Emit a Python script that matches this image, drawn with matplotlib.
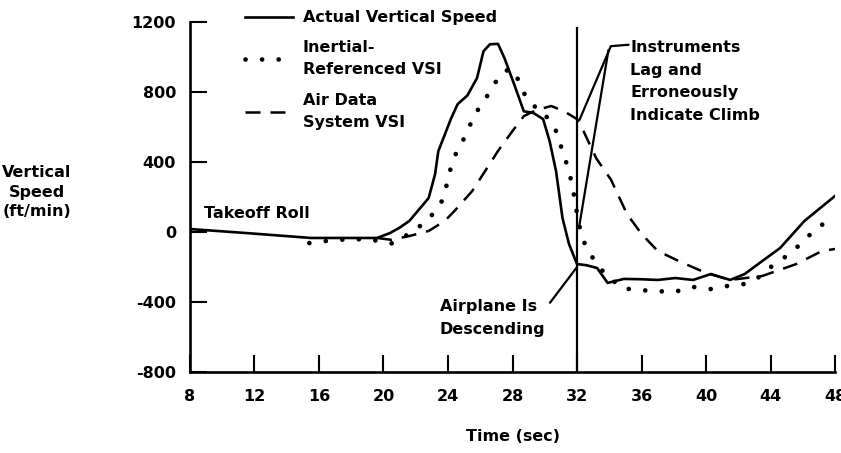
import matplotlib.pyplot as plt

# values
actual_t = [8, 11.5, 15.5, 19.6, 20.4, 21.0, 21.6, 22.8, 23.2, 23.4, 24.2, 24.6, 25.2,
            25.8, 26.2, 26.6, 27.1, 27.5, 28.1, 28.7, 29.3, 29.9, 30.3, 30.7, 31.1,
            31.5, 32.0, 32.6, 33.25, 33.9, 34.9, 36.0, 37.0, 38.1, 39.2, 40.3, 41.5,
            42.4, 43.5, 44.6, 46.1, 48]
actual_v = [17, -6, -34, -34, -6, 25, 63, 194, 331, 462, 651, 731, 780,
            880, 1033, 1073, 1075, 994, 845, 690, 680, 645, 520, 348, 80,
            -68, -183, -190, -206, -291, -268, -270, -274, -263, -274, -240, -274,
            -240, -165, -91, 63, 206]

inertial_t = [15.4, 17, 19, 20.5, 21.6, 22.7, 23.3, 23.7, 23.9, 24.2, 24.6, 25.2, 25.5,
              26.0, 26.6, 27.1, 27.5, 28.0, 28.4, 28.7, 29.3, 29.8, 30.7, 31.0, 31.4,
              31.7, 31.9, 32.1, 32.4, 32.9, 33.4, 34.75, 35.7, 36.8, 38.0, 39.2, 40.3,
              41.35, 42.4, 43.3, 44.1, 45.0, 45.8, 46.8, 48]
inertial_v = [-63, -45, -40, -65, -10, 63, 131, 188, 263, 377, 474, 565, 645,
              720, 800, 880, 920, 930, 862, 794, 720, 702, 577, 491, 377,
              274, 160, 51, -51, -137, -206, -320, -331, -337, -343, -314, -326,
              -308, -297, -257, -194, -137, -74, 17, 91]

airdata_t = [19.6, 20.5, 21.6, 22.8, 23.8, 24.4, 25.5, 26.3, 27.1, 28.0, 28.7, 29.2,
             29.8, 30.4, 31.2, 32.0, 32.4, 33.2, 34.1, 35.1, 36.0, 37.0, 38.4, 40.0,
             41.5, 43.5, 45.6, 47.2, 48]
airdata_v = [-34, -45, -23, 6, 63, 120, 234, 348, 463, 577, 662, 685,
             705, 720, 690, 645, 577, 420, 300, 103, -11, -108, -170, -234,
             -274, -251, -183, -108, -97]

x_ticks = [8, 12, 16, 20, 24, 28, 32, 36, 40, 44, 48]
y_ticks = [-800, -400, 0, 400, 800, 1200]

plt.rcParams['font.family'] = 'DejaVu Sans'
plt.rcParams['font.weight'] = 'bold'
plt.rcParams['axes.unicode_minus'] = False
fs = 11.5

fig = plt.figure(figsize=(8.41, 4.53), dpi=100)
ax = fig.add_axes([0.2259, 0.1788, 0.767, 0.7726])

ax.plot(actual_t, actual_v, color='black', lw=1.9, label='Actual Vertical Speed')
ax.plot(inertial_t, inertial_v, color='black', lw=3.4, linestyle=(0, (0.01, 3.5)),
        dash_capstyle='round', label='Inertial-\nReferenced VSI')
ax.plot(airdata_t, airdata_v, color='black', lw=1.8, linestyle=(0, (6, 4)),
        label='Air Data\nSystem VSI')

ax.axvline(32, ymax=0.982, color='black', lw=1.6)

ax.set_xlim(8, 48)
ax.set_ylim(-800, 1200)
ax.set_xticks(x_ticks)
ax.set_yticks(y_ticks)
ax.tick_params(axis='both', direction='in', length=12, width=1.5, labelsize=fs)
ax.tick_params(axis='y', pad=10)
ax.tick_params(axis='x', pad=12)
for s in ['top', 'right']:
    ax.spines[s].set_visible(False)
for s in ['left', 'bottom']:
    ax.spines[s].set_linewidth(1.9)

ax.set_xlabel('Time (sec)', fontsize=fs, fontweight='bold', labelpad=18)
ax.set_ylabel('Vertical\nSpeed\n(ft/min)', fontsize=fs, fontweight='bold',
              rotation=0, ha='center', va='center', multialignment='center',
              linespacing=1.35)
ax.yaxis.set_label_coords(-0.237, 0.514)

leg = ax.legend(loc='upper left', bbox_to_anchor=(0.0853, 1.034), frameon=False,
                fontsize=fs, handlelength=3.0, handletextpad=0.6, labelspacing=0.95,
                borderpad=0, borderaxespad=0)
for t in leg.get_texts():
    t.set_linespacing(1.6)

ax.text(8.85, 108, 'Takeoff Roll', fontsize=fs, fontweight='bold', ha='left',
        va='center')

ax.annotate('Airplane Is\nDescending', xy=(32.0, -200), xytext=(23.5, -491),
            fontsize=fs, fontweight='bold', ha='left', va='center', linespacing=1.6,
            arrowprops=dict(arrowstyle='-', color='black', lw=1.6,
                            shrinkA=2, shrinkB=0, relpos=(1.0, 0.75)))

ax.text(35.3, 1095, 'Instruments\nLag and\nErroneously\nIndicate Climb',
        fontsize=fs, fontweight='bold', ha='left', va='top', linespacing=1.62)
ax.annotate('', xy=(34.1, 1062), xytext=(35.2, 1070),
            arrowprops=dict(arrowstyle='-', color='black', lw=1.6, shrinkA=0, shrinkB=0))
ax.annotate('', xy=(32.15, 640), xytext=(34.1, 1062),
            arrowprops=dict(arrowstyle='-', color='black', lw=1.6, shrinkA=0, shrinkB=0))
ax.annotate('', xy=(32.15, 40), xytext=(33.95, 1040),
            arrowprops=dict(arrowstyle='-', color='black', lw=1.6, shrinkA=0, shrinkB=0))

fig.savefig('out.png', dpi=100)
